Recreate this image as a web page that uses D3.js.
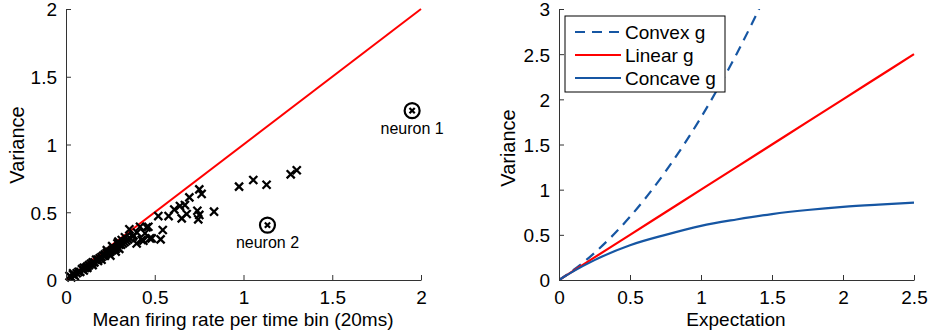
<!DOCTYPE html>
<html>
<head>
<meta charset="utf-8">
<script src="https://cdn.jsdelivr.net/npm/d3@7"></script>
<style>
  body { margin: 0; background: #fff; }
  svg { display: block; font-family: "Liberation Sans", Arial, sans-serif; }
  .tick text { font-size: 19px; fill: #000; }
</style>
</head>
<body>
<div id="chart"></div>
<script>
// left panel: mean firing rate vs variance per neuron
const neuronMean = [
  0.02, 0.03, 0.04, 0.05, 0.04, 0.06, 0.07, 0.08, 0.09, 0.10, 0.11, 0.12, 0.13, 0.14,
  0.15, 0.16, 0.17, 0.18, 0.19, 0.20, 0.21, 0.22, 0.23, 0.24, 0.25, 0.26, 0.27, 0.28,
  0.29, 0.30, 0.31, 0.33, 0.10, 0.12, 0.15, 0.18, 0.20, 0.22, 0.25, 0.26, 0.28, 0.30,
  0.32, 0.34, 0.36, 0.38, 0.40, 0.23, 0.29, 0.35, 0.357, 0.376, 0.332, 0.314, 0.295,
  0.417, 0.464, 0.445, 0.473, 0.426, 0.398, 0.436, 0.483, 0.454, 0.533, 0.545,
  0.52, 0.578, 0.61, 0.642, 0.67, 0.695, 0.68, 0.652, 0.74, 0.751, 0.764, 0.751, 0.745,
  0.834, 0.975, 1.055, 1.13, 1.266, 1.30
];
const neuronVar = [
  0.03, 0.02, 0.04, 0.03, 0.05, 0.05, 0.06, 0.06, 0.08, 0.09, 0.09, 0.10, 0.11, 0.12,
  0.13, 0.13, 0.15, 0.15, 0.16, 0.17, 0.18, 0.18, 0.20, 0.20, 0.21, 0.22, 0.23, 0.23,
  0.24, 0.26, 0.26, 0.28, 0.07, 0.09, 0.11, 0.14, 0.15, 0.19, 0.18, 0.25, 0.21, 0.23,
  0.27, 0.29, 0.31, 0.33, 0.35, 0.22, 0.27, 0.30, 0.374, 0.32, 0.315, 0.295, 0.283,
  0.393, 0.393, 0.345, 0.307, 0.295, 0.27, 0.29, 0.307, 0.389, 0.30, 0.369,
  0.472, 0.472, 0.52, 0.546, 0.553, 0.61, 0.487, 0.455, 0.511, 0.669, 0.635, 0.48, 0.448,
  0.504, 0.689, 0.738, 0.703, 0.78, 0.81
];
const highlighted = [
  { name: "neuron 1", mean: 1.95, variance: 1.25 },
  { name: "neuron 2", mean: 1.135, variance: 0.405 }
];
const poissonLine = [[0, 0], [2, 2]];

// right panel: variance as a function of expectation
const expectation = [0, 0.1, 0.25, 0.5, 0.75, 1, 1.25, 1.5, 1.75, 2, 2.25, 2.5];
const convexVar  = [0, 0.108, 0.30, 0.70, 1.20, 1.80, 2.50, 3.30, null, null, null, null];
const linearVar  = [0, 0.1, 0.25, 0.5, 0.75, 1, 1.25, 1.5, 1.75, 2, 2.25, 2.5];
const concaveVar = [0, 0.095, 0.22, 0.385, 0.50, 0.60, 0.67, 0.73, 0.775, 0.81, 0.835, 0.856];

const leftXTicks = [0, 0.5, 1, 1.5, 2];
const leftYTicks = [0, 0.5, 1, 1.5, 2];
const rightXTicks = [0, 0.5, 1, 1.5, 2, 2.5];
const rightYTicks = [0, 0.5, 1, 1.5, 2, 2.5, 3];

const blue = "#1656a3";
const W = 928, H = 330;

const svg = d3.select("#chart").append("svg")
  .attr("width", W)
  .attr("height", H);

function drawAxes(g, x, y, xt, yt) {
  const fmt = d => String(d);
  const xa = g.append("g")
    .attr("transform", "translate(0," + y.range()[0] + ")")
    .call(d3.axisBottom(x).tickValues(xt).tickFormat(fmt).tickSizeInner(-5).tickSizeOuter(0).tickPadding(9));
  const ya = g.append("g")
    .attr("transform", "translate(" + x.range()[0] + ",0)")
    .call(d3.axisLeft(y).tickValues(yt).tickFormat(fmt).tickSizeInner(-5).tickSizeOuter(0).tickPadding(9));
  [xa, ya].forEach(a => {
    a.select(".domain").attr("stroke", "#333");
    a.selectAll(".tick line").attr("stroke", "#333");
  });
  xa.selectAll(".tick text").attr("dy", "0.8em");
  ya.selectAll(".tick text").attr("dy", "0.36em");
}

// ---- left panel
const xL = d3.scaleLinear().domain([0, 2]).range([66, 421]);
const yL = d3.scaleLinear().domain([0, 2]).range([280, 9]);
const left = svg.append("g");

left.append("path")
  .datum(poissonLine)
  .attr("fill", "none")
  .attr("stroke", "#ff0000")
  .attr("stroke-width", 2)
  .attr("d", d3.line().x(d => xL(d[0])).y(d => yL(d[1])));

const cross = d3.symbol().type(d3.symbolX).size(44);
left.selectAll(".pt")
  .data(neuronMean.map((m, i) => [m, neuronVar[i]]))
  .join("path")
  .attr("class", "pt")
  .attr("transform", d => "translate(" + xL(d[0]) + "," + yL(d[1]) + ")")
  .attr("d", cross)
  .attr("fill", "none")
  .attr("stroke", "#000")
  .attr("stroke-width", 2.3);

const hl = left.selectAll(".hl")
  .data(highlighted)
  .join("g")
  .attr("class", "hl")
  .attr("transform", d => "translate(" + xL(d.mean) + "," + yL(d.variance) + ")");
hl.append("circle").attr("r", 7.5).attr("fill", "none").attr("stroke", "#000").attr("stroke-width", 2.2);
hl.append("path").attr("d", d3.symbol().type(d3.symbolX).size(20))
  .attr("fill", "none").attr("stroke", "#000").attr("stroke-width", 2.2);
hl.append("text")
  .attr("y", 23)
  .attr("text-anchor", "middle")
  .attr("font-size", 16)
  .text(d => d.name);

drawAxes(left, xL, yL, leftXTicks, leftYTicks);

left.append("text")
  .attr("x", 243).attr("y", 326)
  .attr("text-anchor", "middle")
  .attr("font-size", 19)
  .text("Mean firing rate per time bin (20ms)");
left.append("text")
  .attr("transform", "translate(24,145) rotate(-90)")
  .attr("text-anchor", "middle")
  .attr("font-size", 20)
  .text("Variance");

// ---- right panel
const xR = d3.scaleLinear().domain([0, 2.5]).range([559, 914]);
const yR = d3.scaleLinear().domain([0, 3]).range([280, 9]);
const right = svg.append("g");

right.append("clipPath").attr("id", "clipR")
  .append("rect").attr("x", 559).attr("y", 9).attr("width", 356).attr("height", 272);

const curve = d3.line()
  .defined(d => d[1] != null)
  .x(d => xR(d[0])).y(d => yR(d[1]))
  .curve(d3.curveMonotoneX);

const series = [
  { name: "Convex g", values: convexVar, color: blue, dash: "10,7" },
  { name: "Linear g", values: linearVar, color: "#ff0000", dash: null },
  { name: "Concave g", values: concaveVar, color: blue, dash: null }
];

right.append("g").attr("clip-path", "url(#clipR)")
  .selectAll("path")
  .data(series)
  .join("path")
  .attr("fill", "none")
  .attr("stroke", d => d.color)
  .attr("stroke-width", 2.2)
  .attr("stroke-dasharray", d => d.dash)
  .attr("d", d => curve(expectation.map((e, i) => [e, d.values[i]])));

drawAxes(right, xR, yR, rightXTicks, rightYTicks);

right.append("text")
  .attr("x", 736).attr("y", 326)
  .attr("text-anchor", "middle")
  .attr("font-size", 19)
  .text("Expectation");
right.append("text")
  .attr("transform", "translate(515,148) rotate(-90)")
  .attr("text-anchor", "middle")
  .attr("font-size", 20)
  .text("Variance");

// legend
const legend = right.append("g").attr("transform", "translate(565,16)");
legend.append("rect")
  .attr("width", 160).attr("height", 76)
  .attr("fill", "#fff").attr("stroke", "#000").attr("stroke-width", 1);
const item = legend.selectAll(".item")
  .data(series)
  .join("g")
  .attr("class", "item")
  .attr("transform", (d, i) => "translate(0," + (16 + i * 23) + ")");
item.append("line")
  .attr("x1", 10).attr("x2", 56)
  .attr("stroke", d => d.color)
  .attr("stroke-width", 2.2)
  .attr("stroke-dasharray", d => d.dash);
item.append("text")
  .attr("x", 60).attr("dy", "0.36em")
  .attr("font-size", 19)
  .text(d => d.name);
</script>
</body>
</html>
